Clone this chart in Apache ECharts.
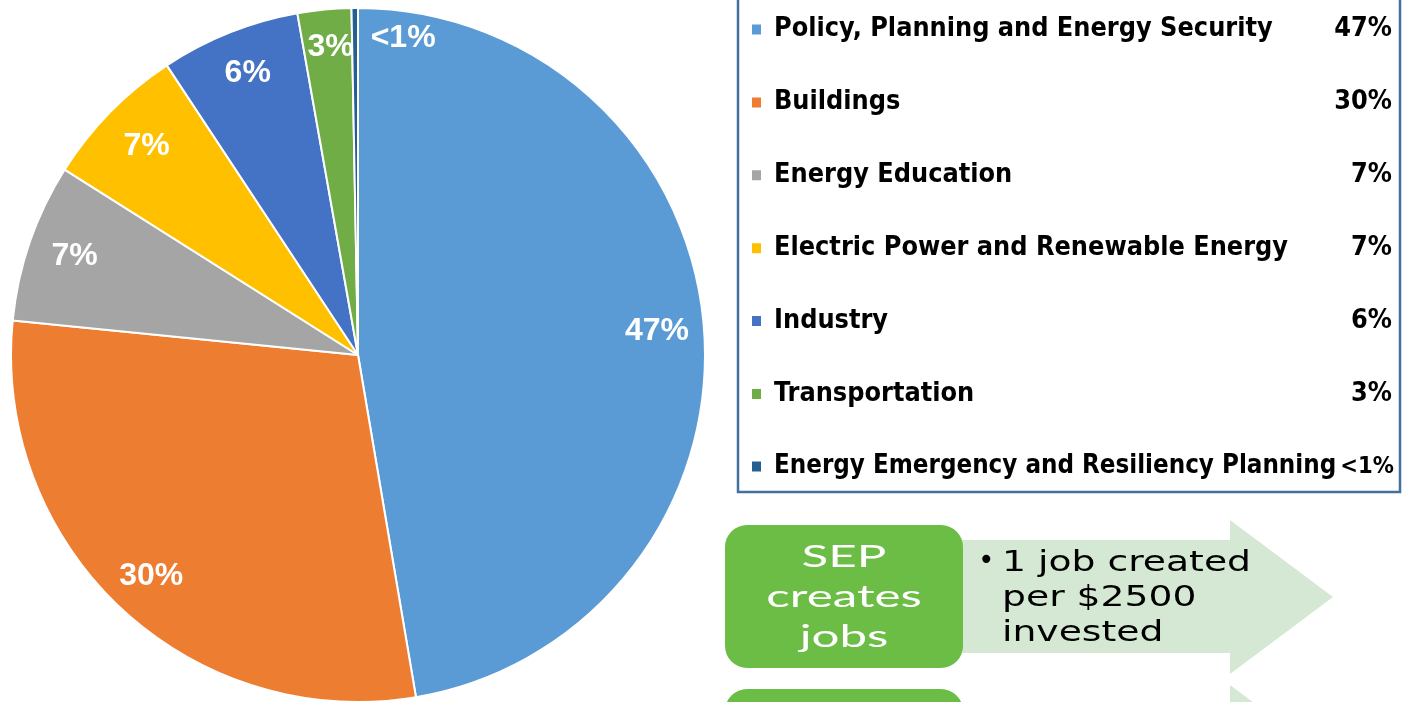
<!DOCTYPE html>
<html><head><meta charset="utf-8">
<script src="https://cdn.jsdelivr.net/npm/echarts@6/dist/echarts.min.js"></script>
<style>html,body{margin:0;padding:0;background:#fff}#c{width:1402px;height:702px}</style>
</head><body><div id="c"></div>
<script>
const categories = ['Policy, Planning and Energy Security','Buildings','Energy Education','Electric Power and Renewable Energy','Industry','Transportation','Energy Emergency and Resiliency Planning'];
const values = [47.4, 29.3, 7.4, 6.75, 6.5, 2.5, 0.3];
const pctLabels = ['47%','30%','7%','7%','6%','3%','<1%'];
const colors = ['#5B9BD5','#ED7D31','#A5A5A5','#FFC000','#4472C4','#70AD47','#255E91'];
const boxLines = ['SEP','creates','jobs'];
const arrowLines = ['1 job created','per $2500','invested'];

const chart = echarts.init(document.getElementById('c'));
const sliceData = categories.map((n,i)=>({name:n, value:values[i], itemStyle:{color:colors[i]}}));
const labelOffsets = {0:[-3,2], 2:[3,0], 3:[5,3], 4:[2,0], 5:[2,-6], 6:[48,-14]};
const labelData = categories.map((n,i)=>{
  const d = {name:n, value:values[i]};
  if (labelOffsets[i]) d.label = {offset:labelOffsets[i]};
  return d;
});
const legendFont = '"Liberation Sans Narrow","DejaVu Sans Condensed","Liberation Sans",sans-serif';
const lf = {fontFamily:legendFont, fontWeight:'bold', fontSize:26.8, color:'#000', lineHeight:30};
chart.setOption({
  animation:false,
  color: colors,
  legend:{
    orient:'vertical', left:745, top:11,
    icon:'rect', itemWidth:11, itemHeight:12, itemGap:45.9,
    selectedMode:false,
    data: categories,
    formatter: name => {
      const i = categories.indexOf(name);
      if (i === categories.length-1) return '{m|'+name+'}{q|'+pctLabels[i]+'}';
      return '{n|'+name+'}{p|'+pctLabels[i]+'}';
    },
    textStyle:{
      padding:[0,0,0,7],
      rich:{
        n:Object.assign({width:566}, lf),
        p:Object.assign({width:52, align:'right'}, lf),
        m:Object.assign({}, lf, {fontSize:25.7}),
        q:Object.assign({}, lf, {fontSize:23.5, padding:[0,0,0,4]})
      }
    }
  },
  series:[
    {type:'pie', center:[358,355], radius:[0,347], startAngle:90, clockwise:true,
     silent:true, label:{show:false}, labelLine:{show:false},
     itemStyle:{borderColor:'#fff', borderWidth:2},
     data: sliceData},
    {type:'pie', center:[358,355], radius:[0,600], startAngle:90, clockwise:true,
     silent:true, z:5, itemStyle:{color:'rgba(0,0,0,0)', borderWidth:0},
     label:{show:true, position:'inside', color:'#fff', fontWeight:'bold', fontSize:32,
            fontFamily:'"Liberation Sans",Arial,sans-serif',
            formatter: p => pctLabels[p.dataIndex]},
     labelLine:{show:false},
     data: labelData}
  ],
  graphic:[
    {type:'rect', shape:{x:738, y:-10, width:662, height:502}, style:{fill:'none', stroke:'#41719C', lineWidth:2.5}, z:-1},
    {type:'polygon', shape:{points:[[950,540],[1230,540],[1230,520],[1333,597],[1230,674],[1230,653],[950,653]]}, style:{fill:'#D5E8D4'}},
    {type:'polygon', shape:{points:[[950,705],[1230,705],[1230,685],[1333,762],[1230,839],[1230,818],[950,818]]}, style:{fill:'#D5E8D4'}},
    {type:'rect', shape:{x:725, y:525, width:238, height:143, r:22}, style:{fill:'#6CBD45'}},
    {type:'rect', shape:{x:725, y:689, width:238, height:143, r:22}, style:{fill:'#6CBD45'}},
    {type:'text', x:844, y:597, scaleX:1.59, style:{text:boxLines.join('\n'), fill:'#fff', font:'31px Lato, "Open Sans", sans-serif', align:'center', verticalAlign:'middle', lineHeight:40}},
    {type:'text', x:978, y:562, style:{text:'•', fill:'#000', font:'28px "DejaVu Sans", sans-serif', align:'left', verticalAlign:'middle'}},
    {type:'text', x:1002, y:598, scaleX:1.3, style:{text:arrowLines.join('\n'), fill:'#000', font:'29px "DejaVu Sans", sans-serif', align:'left', verticalAlign:'middle', lineHeight:35}}
  ]
});
</script></body></html>
